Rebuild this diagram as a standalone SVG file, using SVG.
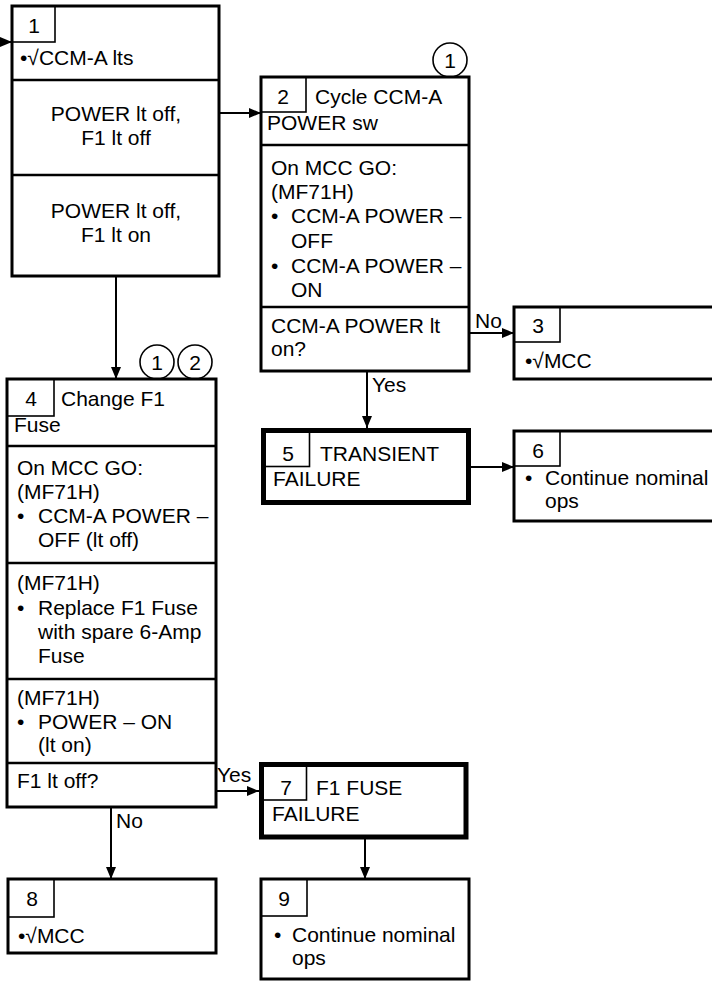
<svg xmlns="http://www.w3.org/2000/svg" width="712" height="981" viewBox="0 0 712 981">
<style>
text{font-family:"Liberation Sans",Arial,sans-serif;font-size:21px;fill:#000}
.c{text-anchor:middle}
.box{fill:#fff;stroke:#000;stroke-width:3}
.thick{fill:#fff;stroke:#000;stroke-width:5}
.num{fill:none;stroke:#000;stroke-width:1.6}
.div{stroke:#000;stroke-width:2.5}
.conn{stroke:#000;stroke-width:2;fill:none}
.circ{fill:#fff;stroke:#000;stroke-width:1.6}
</style>
<defs>
<marker id="ah" markerUnits="userSpaceOnUse" markerWidth="12" markerHeight="10" refX="12" refY="5" orient="auto">
<path d="M0,0 L12,5 L0,10 z" fill="#000"/>
</marker>
</defs>
<rect width="712" height="981" fill="#fff"/>

<g id="connectors">
<line class="conn" x1="0" y1="42" x2="12" y2="42" marker-end="url(#ah)"/>
<line class="conn" x1="219" y1="113" x2="261" y2="113" marker-end="url(#ah)"/>
<line class="conn" x1="469" y1="333" x2="514" y2="333" marker-end="url(#ah)"/>
<text x="475" y="328">No</text>
<line class="conn" x1="367" y1="371" x2="367" y2="428" marker-end="url(#ah)"/>
<text x="372" y="392">Yes</text>
<line class="conn" x1="471" y1="467" x2="514" y2="467" marker-end="url(#ah)"/>
<line class="conn" x1="116" y1="276" x2="116" y2="379" marker-end="url(#ah)"/>
<line class="conn" x1="216" y1="791" x2="259" y2="791" marker-end="url(#ah)"/>
<text x="217" y="782">Yes</text>
<line class="conn" x1="111" y1="807" x2="111" y2="879" marker-end="url(#ah)"/>
<text x="116" y="828">No</text>
<line class="conn" x1="365" y1="839" x2="365" y2="879" marker-end="url(#ah)"/>
</g>

<g id="node1">
<rect class="box" x="12" y="6" width="207" height="270"/>
<rect class="num" x="12" y="6" width="43" height="36"/>
<text class="c" x="34" y="33">1</text>
<text x="20" y="65">•√CCM-A lts</text>
<line class="div" x1="12" y1="80" x2="219" y2="80"/>
<text class="c" x="116" y="121">POWER lt off,</text>
<text class="c" x="116" y="145">F1 lt off</text>
<line class="div" x1="12" y1="175" x2="219" y2="175"/>
<text class="c" x="116" y="218">POWER lt off,</text>
<text class="c" x="116" y="242">F1 lt on</text>
</g>

<g id="node2">
<circle class="circ" cx="450" cy="60" r="17"/>
<text class="c" x="450" y="68">1</text>
<rect class="box" x="261" y="77" width="208" height="294"/>
<rect class="num" x="261" y="77" width="45" height="35"/>
<text class="c" x="283" y="104">2</text>
<text x="315" y="104">Cycle CCM-A</text>
<text x="267" y="130">POWER sw</text>
<line class="div" x1="261" y1="145" x2="469" y2="145"/>
<text x="271" y="175">On MCC GO:</text>
<text x="271" y="199">(MF71H)</text>
<text x="271" y="223">•</text><text x="291" y="223">CCM-A POWER –</text>
<text x="291" y="248">OFF</text>
<text x="271" y="273">•</text><text x="291" y="273">CCM-A POWER –</text>
<text x="291" y="297">ON</text>
<line class="div" x1="261" y1="307" x2="469" y2="307"/>
<text x="271" y="333">CCM-A POWER lt</text>
<text x="271" y="356">on?</text>
</g>

<g id="node3">
<rect class="box" x="514" y="307" width="202" height="72"/>
<rect class="num" x="514" y="307" width="46" height="35"/>
<text class="c" x="538" y="333">3</text>
<text x="525" y="368">•√MCC</text>
</g>

<g id="node5">
<rect class="thick" x="263.5" y="430.5" width="205" height="72"/>
<rect class="num" x="263.5" y="430.5" width="46" height="36"/>
<text class="c" x="288" y="461">5</text>
<text x="320" y="461">TRANSIENT</text>
<text x="273" y="486">FAILURE</text>
</g>

<g id="node6">
<rect class="box" x="514" y="431" width="202" height="90"/>
<rect class="num" x="514" y="431" width="46" height="35"/>
<text class="c" x="538" y="458">6</text>
<text x="525" y="485">•</text><text x="545" y="485">Continue nominal</text>
<text x="545" y="508">ops</text>
</g>

<g id="node4">
<circle class="circ" cx="157" cy="362" r="17"/>
<text class="c" x="157" y="370">1</text>
<circle class="circ" cx="195" cy="362" r="17"/>
<text class="c" x="195" y="370">2</text>
<rect class="box" x="7" y="379" width="209" height="428"/>
<rect class="num" x="7" y="379" width="47" height="37"/>
<text class="c" x="31" y="406">4</text>
<text x="61" y="406">Change F1</text>
<text x="14" y="432">Fuse</text>
<line class="div" x1="7" y1="446" x2="216" y2="446"/>
<text x="17" y="475">On MCC GO:</text>
<text x="17" y="499">(MF71H)</text>
<text x="17" y="523">•</text><text x="38" y="523">CCM-A POWER –</text>
<text x="38" y="547">OFF (lt off)</text>
<line class="div" x1="7" y1="563" x2="216" y2="563"/>
<text x="17" y="590">(MF71H)</text>
<text x="17" y="615">•</text><text x="38" y="615">Replace F1 Fuse</text>
<text x="38" y="639">with spare 6-Amp</text>
<text x="38" y="663">Fuse</text>
<line class="div" x1="7" y1="679" x2="216" y2="679"/>
<text x="17" y="705">(MF71H)</text>
<text x="17" y="729">•</text><text x="38" y="729">POWER – ON</text>
<text x="38" y="752">(lt on)</text>
<line class="div" x1="7" y1="763" x2="216" y2="763"/>
<text x="17" y="788">F1 lt off?</text>
</g>

<g id="node7">
<rect class="thick" x="261.5" y="764.5" width="204.5" height="72.5"/>
<rect class="num" x="261.5" y="764.5" width="45" height="35.5"/>
<text class="c" x="286" y="795">7</text>
<text x="316" y="795">F1 FUSE</text>
<text x="272" y="821">FAILURE</text>
</g>

<g id="node8">
<rect class="box" x="8" y="879" width="208" height="74"/>
<rect class="num" x="8" y="879" width="46" height="38"/>
<text class="c" x="32" y="906">8</text>
<text x="18" y="943">•√MCC</text>
</g>

<g id="node9">
<rect class="box" x="261" y="879" width="208" height="100"/>
<rect class="num" x="261" y="879" width="46" height="37"/>
<text class="c" x="284" y="906">9</text>
<text x="274" y="942">•</text><text x="292" y="942">Continue nominal</text>
<text x="292" y="965">ops</text>
</g>
</svg>
